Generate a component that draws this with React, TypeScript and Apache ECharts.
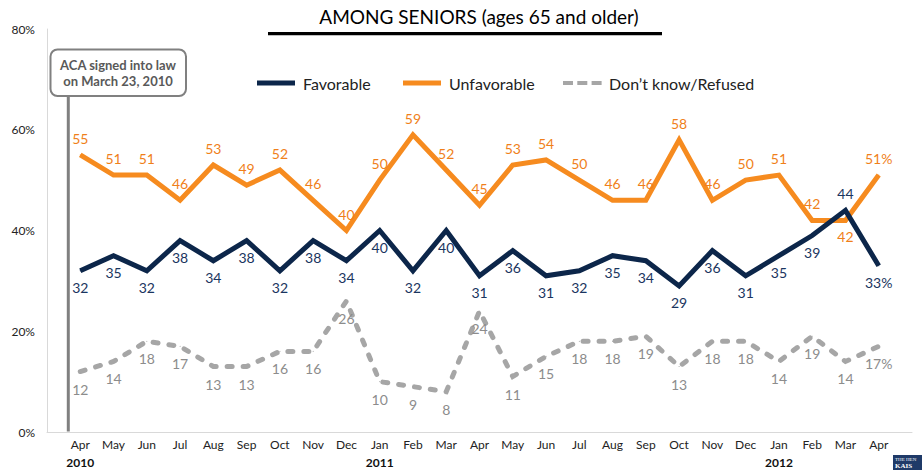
import { useEffect, useRef } from 'react';
import * as echarts from 'echarts';

const months = ['Apr','May','Jun','Jul','Aug','Sep','Oct','Nov','Dec','Jan','Feb','Mar','Apr','May','Jun','Jul','Aug','Sep','Oct','Nov','Dec','Jan','Feb','Mar','Apr'];
const years = ['2010','','','','','','','','','2011','','','','','','','','','','','','2012','','',''];
const favorable = [32,35,32,38,34,38,32,38,34,40,32,40,31,36,31,32,35,34,29,36,31,35,39,44,33];
const unfavorable = [55,51,51,46,53,49,52,46,40,50,59,52,45,53,54,50,46,46,58,46,50,51,42,42,51];
const dontKnow = [12,14,18,17,13,13,16,16,26,10,9,8,24,11,15,18,18,19,13,18,18,14,19,14,17];
const yTicks = [0, 20, 40, 60, 80];
const seriesNames = ['Favorable', 'Unfavorable', 'Don\u2019t know/Refused'];
const title = 'AMONG SENIORS (ages 65 and older)';
const acaNote = ['ACA signed into law', 'on March 23, 2010'];

const NAVY = '#0c264a';
const ORANGE = '#f68b1f';
const GRAY = '#a6a6a6';
const FONT = 'Lato, "Open Sans", sans-serif';

export default function App() {
  const ref = useRef<HTMLDivElement>(null);
  useEffect(() => {
    document.body.style.margin = '0';
    const chart = echarts.init(ref.current!, null, { renderer: 'svg' });
    const cats = ['', ...months.map((m, i) => m + ' ' + i), ''];
    const last = months.length - 1;
    const build = (arr: number[], pos: string, flip: number[], flipPos: string) =>
      ['-', ...arr.map((v, i) => (flip.includes(i) ? { value: v, label: { position: flipPos } } : { value: v, label: { position: pos } })), '-'];
    const fmt = (p: any) => (p.dataIndex === last + 1 ? p.value + '%' : String(p.value));
    const mkSeries = (name: string, data: any[], color: string, labelColor: string, dash: any, dist: number) => ({
      name,
      type: 'line',
      data,
      symbol: 'circle',
      symbolSize: 1,
      itemStyle: { color },
      lineStyle: { color, width: 5, type: dash, cap: dash === 'solid' ? 'butt' : 'round', join: 'miter' },
      label: { show: true, color: labelColor, fontSize: 14, fontFamily: FONT, distance: dist, formatter: fmt },
      emphasis: { disabled: true },
    });
    chart.setOption({
      animation: false,
      grid: { left: 47, right: 10, top: 29, bottom: 38 },
      xAxis: {
        type: 'category',
        boundaryGap: false,
        data: cats,
        axisLine: { lineStyle: { color: '#d9d9d9', width: 1 } },
        axisTick: { show: false },
        axisLabel: {
          interval: 0,
          margin: 3,
          fontFamily: FONT,
          formatter: (_v: string, idx: number) => {
            if (idx === 0 || idx === months.length + 1) return '';
            const m = months[idx - 1];
            const y = years[idx - 1];
            return y ? `{m|${m}}\n{y|${y}}` : `{m|${m}}`;
          },
          rich: {
            m: { fontSize: 12, color: '#222', lineHeight: 18, fontFamily: FONT },
            y: { fontSize: 12, color: '#111', fontWeight: 'bold', lineHeight: 18, fontFamily: FONT },
          },
        },
      },
      yAxis: {
        type: 'value',
        min: yTicks[0],
        max: yTicks[yTicks.length - 1],
        interval: yTicks[1] - yTicks[0],
        axisLine: { show: true, lineStyle: { color: '#d9d9d9', width: 1 } },
        axisTick: { show: false },
        splitLine: { show: false },
        axisLabel: { formatter: '{value}%', color: '#222', fontSize: 12, margin: 12, fontFamily: FONT },
      },
      series: [
        mkSeries(seriesNames[2], build(dontKnow, 'bottom', [], 'top'), GRAY, '#8c8c8c', [5, 11], 10),
        mkSeries(seriesNames[1], build(unfavorable, 'top', [23], 'bottom'), ORANGE, '#f07f1a', 'solid', 9),
        mkSeries(seriesNames[0], build(favorable, 'bottom', [23], 'top'), NAVY, '#1a3560', 'solid', 9),
      ],
      graphic: [
        { type: 'text', x: 479, y: 16, style: { text: title, font: `19px ${FONT}`, fill: '#000', align: 'center', verticalAlign: 'middle' } },
        { type: 'rect', shape: { x: 268, y: 32, width: 394, height: 3.2 }, style: { fill: '#000' } },
        { type: 'line', shape: { x1: 257, y1: 83, x2: 295, y2: 83 }, style: { stroke: NAVY, lineWidth: 5 } },
        { type: 'text', x: 303, y: 83, style: { text: seriesNames[0], font: `16px ${FONT}`, fill: '#222', verticalAlign: 'middle' } },
        { type: 'line', shape: { x1: 403, y1: 83, x2: 441, y2: 83 }, style: { stroke: ORANGE, lineWidth: 5 } },
        { type: 'text', x: 449, y: 83, style: { text: seriesNames[1], font: `16px ${FONT}`, fill: '#222', verticalAlign: 'middle' } },
        { type: 'line', shape: { x1: 563, y1: 83, x2: 602, y2: 83 }, style: { stroke: GRAY, lineWidth: 4, lineDash: [10, 4.3] } },
        { type: 'text', x: 609, y: 83, style: { text: seriesNames[2], font: `16px ${FONT}`, fill: '#222', verticalAlign: 'middle' } },
        { type: 'line', z: 10, shape: { x1: 68.3, y1: 96, x2: 68.3, y2: 431.5 }, style: { stroke: '#808080', lineWidth: 3 } },
        { type: 'rect', z: 10, shape: { x: 50.5, y: 49.5, width: 135.5, height: 46.5, r: 7 }, style: { fill: '#fff', stroke: '#808080', lineWidth: 2 } },
        { type: 'text', z: 11, x: 118, y: 64.5, style: { text: acaNote[0], font: `bold 13px ${FONT}`, fill: '#595959', align: 'center', verticalAlign: 'middle' } },
        { type: 'text', z: 11, x: 118, y: 81, style: { text: acaNote[1], font: `bold 13px ${FONT}`, fill: '#595959', align: 'center', verticalAlign: 'middle' } },
        { type: 'rect', shape: { x: 893, y: 455, width: 29, height: 15 }, style: { fill: '#1f3a68' } },
        { type: 'text', x: 895, y: 459, style: { text: 'THE HEN', font: '5px "Liberation Serif", serif', fill: '#fff', verticalAlign: 'middle' } },
        { type: 'text', x: 895, y: 466, style: { text: 'KAIS', font: 'bold 7px "Liberation Serif", serif', fill: '#fff', verticalAlign: 'middle' } },
      ],
    });
    return () => chart.dispose();
  }, []);
  return <div ref={ref} style={{ width: 922, height: 470 }} />;
}
